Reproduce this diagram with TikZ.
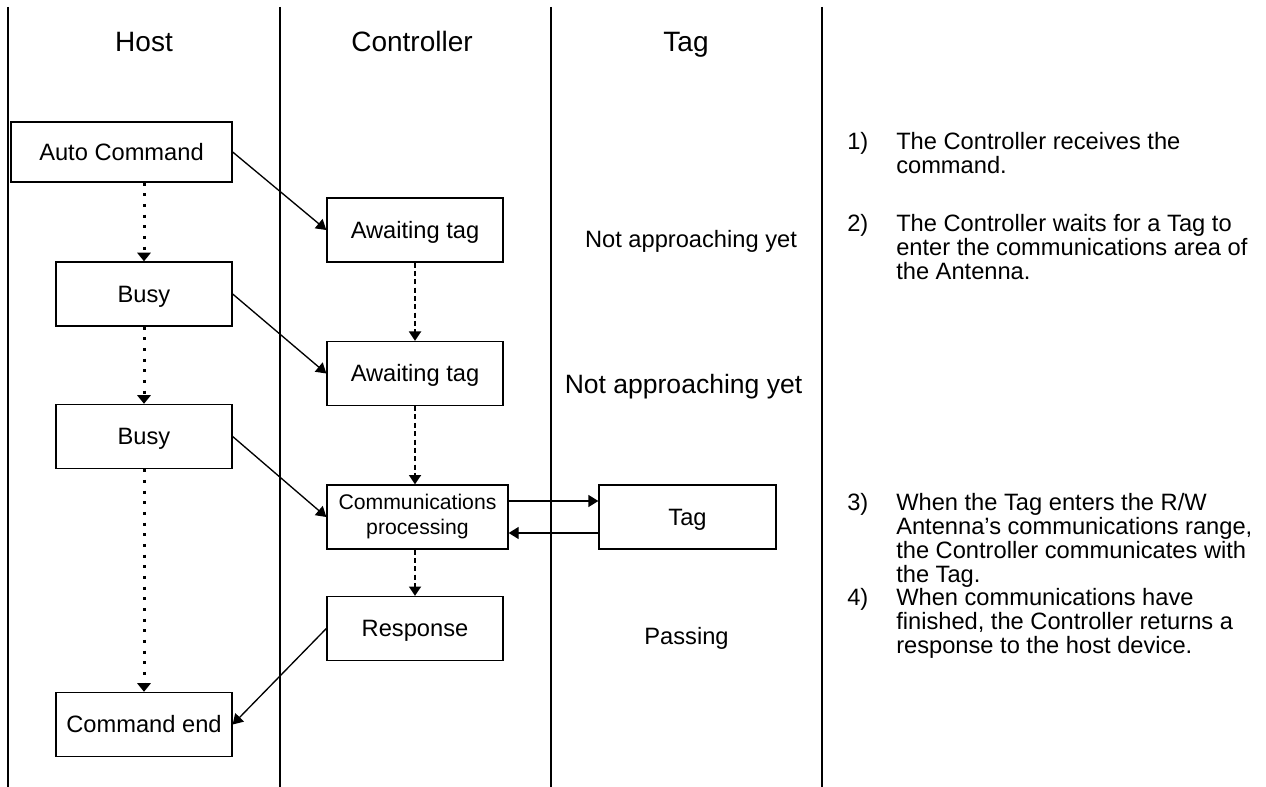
\documentclass[tikz,border=0pt]{standalone}
\usepackage{fontspec}
\setmainfont{Liberation Sans}
\usetikzlibrary{arrows.meta,calc}
\begin{document}
\begin{tikzpicture}[x=0.75pt,y=-0.75pt,
  box/.style={draw,line width=1pt,inner sep=0pt,minimum width=132pt,minimum height=48pt,
    font=\fontsize{17.75}{20}\selectfont,text height=12.7pt,text depth=0pt},
  hdr/.style={inner sep=0pt,anchor=base,font=\fontsize{21}{25}\selectfont},
  note/.style={inner sep=0pt,font=\fontsize{17.75}{18}\selectfont,align=left,anchor=base west},
  divider/.style={line width=1pt},
  arr/.style={line width=1pt,-{Triangle[length=7.5pt,width=9pt]}},
  hostdot/.style={line width=2.25pt,dash pattern=on 2.25pt off 5.75pt,-{Triangle[length=6.5pt,width=10pt]}},
  ctrldash/.style={line width=1.4pt,dash pattern=on 3.75pt off 2.5pt,-{Triangle[length=7pt,width=9pt]}}
]
\useasboundingbox (0,0) rectangle (1266,787);
% lane dividers
\draw[divider] (8,7) -- (8,787);
\draw[divider] (280,7) -- (280,787);
\draw[divider] (551,7) -- (551,787);
\draw[divider] (822,7) -- (822,787);
% headers
\node[hdr] (hHost) at (144,52) {Host};
\node[hdr] (hCtrl) at (412,52) {Controller};
\node[hdr] (hTag) at (686,52) {Tag};
% host boxes
\node[box,minimum width=165.75pt,minimum height=45pt] (auto) at (121.5,152) {Auto Command};
\node[box] (busy1) at (144,294) {Busy};
\node[box] (busy2) at (144,436.5) {Busy};
\node[box] (cmdend) at (144,724.5) {Command end};
% controller boxes
\node[box] (await1) at (415,230) {Awaiting tag};
\node[box] (await2) at (415,373.5) {Awaiting tag};
\node[box,minimum width=135.75pt,text height=,text depth=,align=center,
  font=\fontsize{15.9}{18.75}\selectfont] (comm) at (417.5,517) {Communications\\processing};
\node[box] (resp) at (415,628.5) {Response};
% tag box
\node[box,minimum width=132.75pt] (tagbox) at (687.5,517) {Tag};
% tag lane texts
\node[inner sep=0pt,anchor=base,font=\fontsize{17.75}{20}\selectfont] (na1) at (691,248) {Not approaching yet};
\node[inner sep=0pt,anchor=base,font=\fontsize{19.9}{22}\selectfont] (na2) at (683.5,393) {Not approaching yet};
\node[inner sep=0pt,anchor=base,font=\fontsize{17.75}{20}\selectfont] (pass) at (686.5,644) {Passing};
% host flow
\draw[hostdot] (auto.south -| busy1.north) -- (busy1.north);
\draw[hostdot] (busy1.south) -- (busy2.north);
\draw[hostdot] (busy2.south) -- (cmdend.north);
% controller flow
\draw[ctrldash] (await1.south) -- (await2.north);
\draw[ctrldash] (await2.south) -- (await2.south |- comm.north);
\draw[ctrldash] (await2.south |- comm.south) -- (resp.north);
% cross-lane messages
\draw[arr] (auto.east) -- (await1.west);
\draw[arr] (busy1.east) -- (await2.west);
\draw[arr] (busy2.east) -- (comm.west);
\draw[arr] (resp.west) -- (cmdend.east);
\draw[arr] ([yshift=12pt]comm.east) -- ([yshift=12pt]comm.east -| tagbox.west);
\draw[arr] ([yshift=-12pt]comm.east -| tagbox.west) -- ([yshift=-12pt]comm.east);
% notes (anchored at the baseline of each note's last line)
\node[note] (n1) at (847,150) {1)};
\node[note] (t1) at (896,174) {The Controller receives the\\command.};
\node[note] (n2) at (847,232) {2)};
\node[note] (t2) at (896,280) {The Controller waits for a Tag to\\enter the communications area of\\the Antenna.};
\node[note] (n3) at (847,510) {3)};
\node[note] (t3) at (896,582) {When the Tag enters the R/W\\Antenna’s communications range,\\the Controller communicates with\\the Tag.};
\node[note] (n4) at (847,605) {4)};
\node[note] (t4) at (896,653) {When communications have\\finished, the Controller returns a\\response to the host device.};
\end{tikzpicture}
\end{document}
